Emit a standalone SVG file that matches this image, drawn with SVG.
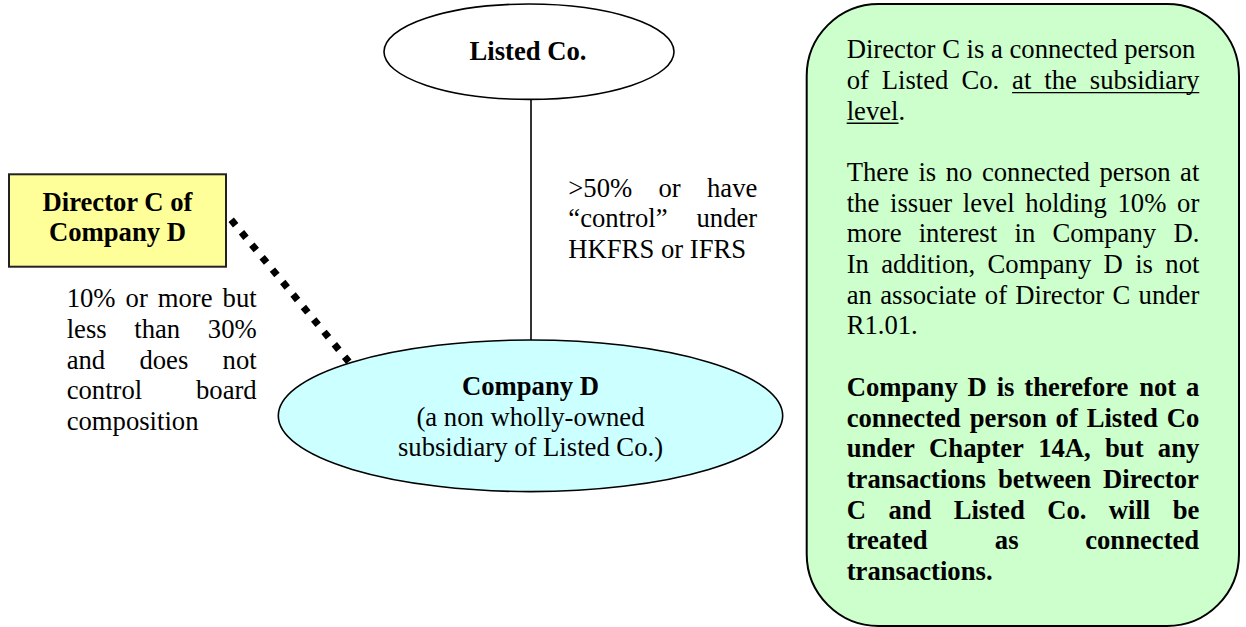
<svg xmlns="http://www.w3.org/2000/svg" width="1246" height="627" viewBox="0 0 1246 627" font-family="Liberation Serif, DejaVu Serif, serif">
  <style>
    text { font-family: 'Liberation Serif', 'DejaVu Serif', serif; font-size: 26.67px; fill: #000; }
    .b { font-weight: bold; }
    .mid { text-anchor: middle; }
    .shape { stroke: #000; stroke-width: 1.6; }
    .ul { stroke: #000; stroke-width: 1.4; }
  </style>

  <!-- connectors -->
  <g id="connectors">
    <line x1="531" y1="99.5" x2="531" y2="340" stroke="#000" stroke-width="1.6"/>
    <path d="M231.2 219.8 L348.8 361.8" fill="none" stroke="#000" stroke-width="7" stroke-dasharray="7 9.17"/>
  </g>

  <!-- edge labels -->
  <g id="label-control">
    <text y="196.7"><tspan x="568.3">&gt;50%</tspan><tspan x="658.5">or</tspan><tspan x="707">have</tspan></text>
    <text y="227.4"><tspan x="568.3">“control”</tspan><tspan x="696.5">under</tspan></text>
    <text x="568.3" y="258.1">HKFRS or IFRS</text>
  </g>

  <g id="label-interest">
    <text y="307.3"><tspan x="66.7">10%</tspan><tspan x="125.6">or</tspan><tspan x="157.8">more</tspan><tspan x="222.6">but</tspan></text>
    <text y="338"><tspan x="66.7">less</tspan><tspan x="134.3">than</tspan><tspan x="207.8">30%</tspan></text>
    <text y="368.7"><tspan x="66.7">and</tspan><tspan x="139.4">does</tspan><tspan x="222.6">not</tspan></text>
    <text y="399.4"><tspan x="66.7">control</tspan><tspan x="196">board</tspan></text>
    <text x="66.7" y="430">composition</text>
  </g>

  <!-- nodes -->
  <g id="listed-co">
    <ellipse cx="529" cy="51.7" rx="145" ry="47.7" fill="#fff" class="shape"/>
    <text x="528" y="60" class="b mid">Listed Co.</text>
  </g>

  <g id="director-c">
    <rect x="9" y="174.3" width="217" height="92.4" fill="#FFFF99" stroke="#222" stroke-width="2"/>
    <text x="117.5" y="210.7" class="b mid">Director C of</text>
    <text x="117.5" y="241.4" class="b mid">Company D</text>
  </g>

  <g id="company-d">
    <ellipse cx="530.5" cy="415.8" rx="252.2" ry="75.8" fill="#CCFFFF" class="shape"/>
    <text x="530.5" y="395" class="b mid">Company D</text>
    <text x="530.5" y="425.7" class="mid">(a non wholly-owned</text>
    <text x="530.5" y="456.4" class="mid">subsidiary of Listed Co.)</text>
  </g>

  <g id="note">
    <rect x="806.7" y="4" width="432.3" height="622" rx="72" ry="72" fill="#CCFFCC" stroke="#000" stroke-width="2"/>
    <text x="846.7" y="58.3">Director C is a connected person</text>
    <text y="89"><tspan x="846.7">of</tspan><tspan x="881.8">Listed</tspan><tspan x="961.4">Co.</tspan><tspan x="1012.1">at</tspan><tspan x="1044.3">the</tspan><tspan x="1089.8">subsidiary</tspan></text>
    <line x1="1012.1" y1="92.6" x2="1199.3" y2="92.6" class="ul"/>
    <text x="846.7" y="119.7">level.</text>
    <line x1="846.7" y1="123.3" x2="898.5" y2="123.3" class="ul"/>

    <text y="181"><tspan x="846.7">There</tspan><tspan x="918.4">is</tspan><tspan x="945.7">no</tspan><tspan x="981.9">connected</tspan><tspan x="1099.5">person</tspan><tspan x="1180.1">at</tspan></text>
    <text y="211.7"><tspan x="846.7">the</tspan><tspan x="890">issuer</tspan><tspan x="962.8">level</tspan><tspan x="1025.3">holding</tspan><tspan x="1117.5">10%</tspan><tspan x="1177.1">or</tspan></text>
    <text y="242.4"><tspan x="846.7">more</tspan><tspan x="918.7">interest</tspan><tspan x="1014.5">in</tspan><tspan x="1052.4">Company</tspan><tspan x="1173.4">D.</tspan></text>
    <text y="273"><tspan x="846.7">In</tspan><tspan x="881.2">addition,</tspan><tspan x="987.6">Company</tspan><tspan x="1103.6">D</tspan><tspan x="1135.2">is</tspan><tspan x="1165.3">not</tspan></text>
    <text y="303.7"><tspan x="846.7">an</tspan><tspan x="880.2">associate</tspan><tspan x="984.8">of</tspan><tspan x="1015.3">Director</tspan><tspan x="1112.5">C</tspan><tspan x="1138.6">under</tspan></text>
    <text x="846.7" y="334.4">R1.01.</text>

    <text y="395.8" class="b"><tspan x="846.7">Company</tspan><tspan x="967.6">D</tspan><tspan x="996.7">is</tspan><tspan x="1024.3">therefore</tspan><tspan x="1139.2">not</tspan><tspan x="1186">a</tspan></text>
    <text y="426.5" class="b"><tspan x="846.7">connected</tspan><tspan x="969.7">person</tspan><tspan x="1055.6">of</tspan><tspan x="1086.7">Listed</tspan><tspan x="1166.7">Co</tspan></text>
    <text y="457.1" class="b"><tspan x="846.7">under</tspan><tspan x="929.1">Chapter</tspan><tspan x="1038.2">14A,</tspan><tspan x="1105">but</tspan><tspan x="1157.8">any</tspan></text>
    <text y="487.8" class="b"><tspan x="846.7">transactions</tspan><tspan x="997.9">between</tspan><tspan x="1103.1">Director</tspan></text>
    <text y="518.5" class="b"><tspan x="846.7">C</tspan><tspan x="888.4">and</tspan><tspan x="953.7">Listed</tspan><tspan x="1047.2">Co.</tspan><tspan x="1108.8">will</tspan><tspan x="1172.7">be</tspan></text>
    <text y="549.2" class="b"><tspan x="846.7">treated</tspan><tspan x="994.8">as</tspan><tspan x="1085.2">connected</tspan></text>
    <text x="846.7" y="579.9" class="b">transactions.</text>
  </g>
</svg>
